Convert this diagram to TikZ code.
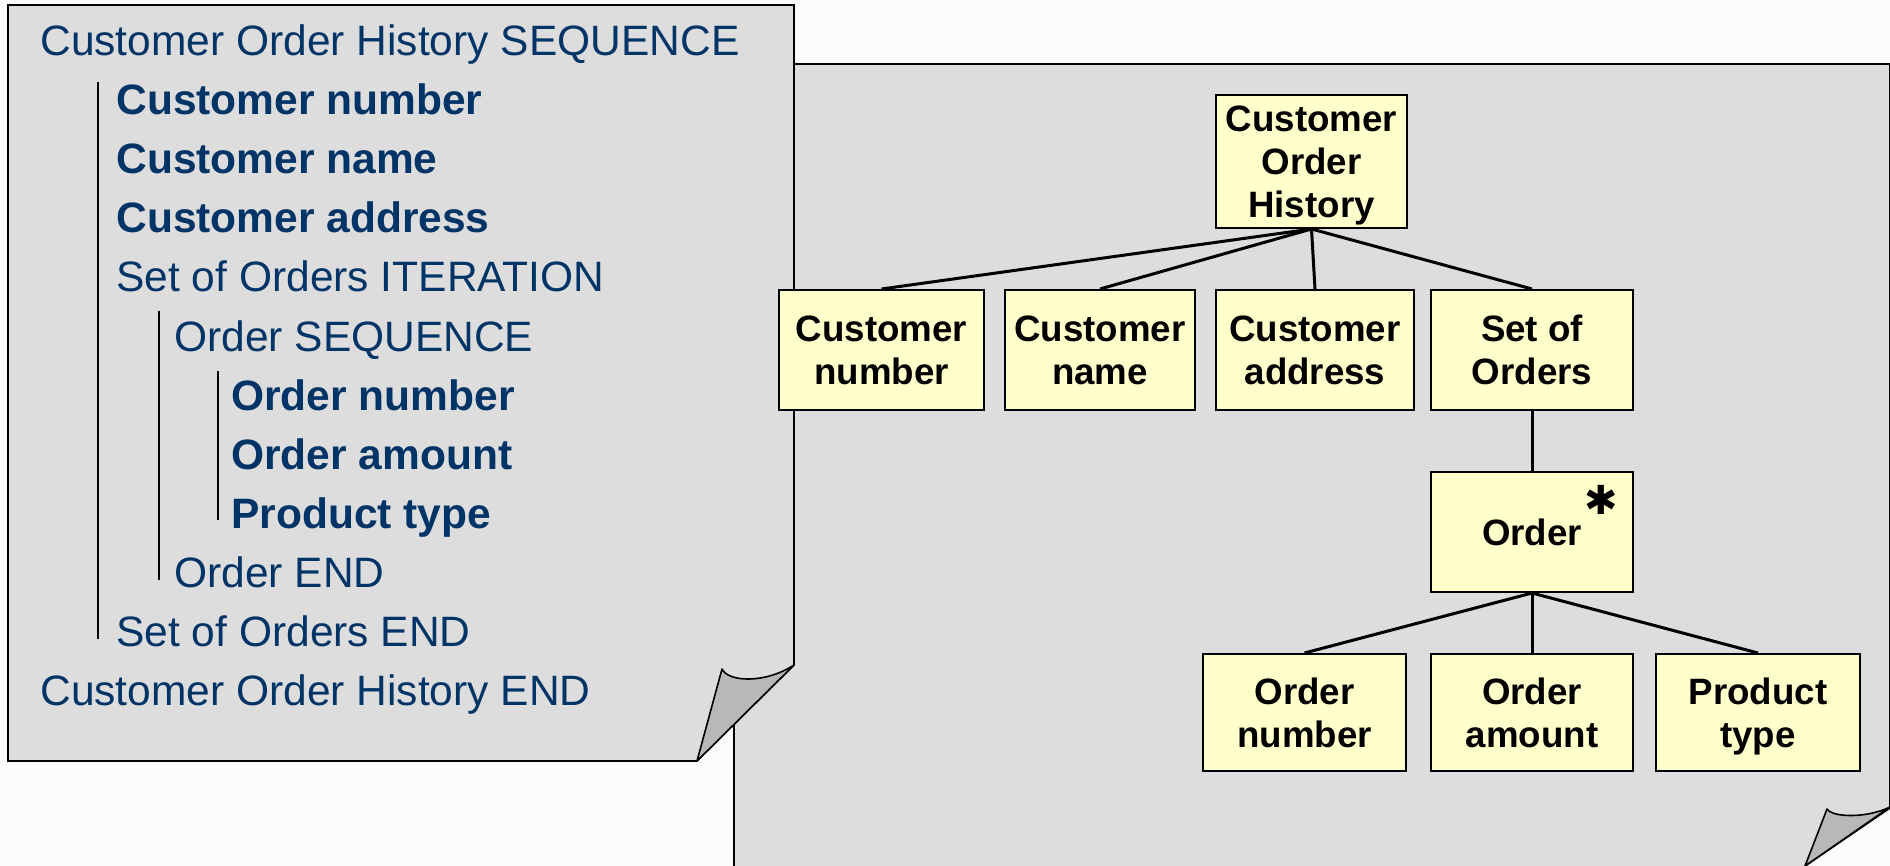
\documentclass[tikz,border=0pt]{standalone}
\usepackage{fontspec}
\setmainfont{Liberation Sans}
\newfontfamily\symfont{DejaVu Sans}
\definecolor{bgc}{HTML}{FAFCFE}
\definecolor{pagec}{HTML}{DDDDDD}
\definecolor{curlc}{HTML}{B8B8B8}
\definecolor{navy}{HTML}{003366}
\definecolor{boxy}{HTML}{FFFFCC}
\tikzset{
  page/.style={fill=pagec},
  pageedge/.style={draw=black, line width=0.8pt, line join=miter},
  curl/.style={fill=curlc, draw=black, line width=0.8pt, line join=round},
  lt/.style={font=\fontsize{21.25}{25}\selectfont, text=navy, inner sep=0pt, anchor=base west},
  ltb/.style={lt, font=\fontsize{21.25}{25}\selectfont\bfseries},
  bar/.style={draw=black, line width=1pt},
  box/.style={draw=black, line width=1pt, fill=boxy, align=center, inner sep=0pt,
    font=\fontsize{18.35}{21.5}\selectfont\bfseries, minimum height=60pt, text depth=0pt},
  edge/.style={draw=black, line width=1.5pt},
}
\begin{document}
\begin{tikzpicture}[x=0.5pt,y=-0.5pt]
\fill[bgc] (0,0) rectangle (1890,866);
\useasboundingbox (0,0) rectangle (1890,866);
% right page
\fill[page] (734,64) -- (1890,64) -- (1890,808) -- (1805,866) -- (734,866) -- cycle;
\draw[pageedge] (734,866) -- (734,64) -- (1890,64) -- (1890,808) -- (1805,866);
\filldraw[curl] (1805,866) -- (1827,809) .. controls (1833,818) and (1868,818) .. (1890,807) -- cycle;
% left page
\filldraw[page, pageedge] (8,5) -- (794,5) -- (794,665) -- (697,761) -- (8,761) -- cycle;
\filldraw[curl] (697,761) -- (722,669) .. controls (728,682) and (765,684) .. (794,665) -- cycle;
% left text
\node[lt]  (l1)  at (40,56)  {Customer Order History SEQUENCE};
\node[ltb] (l2)  at (116,115) {Customer number};
\node[ltb] (l3)  at (116,174) {Customer name};
\node[ltb] (l4)  at (116,233) {Customer address};
\node[lt]  (l5)  at (116,292) {Set of Orders ITERATION};
\node[lt]  (l6)  at (174,351) {Order SEQUENCE};
\node[ltb] (l7)  at (231,410) {Order number};
\node[ltb] (l8)  at (231,469) {Order amount};
\node[ltb] (l9)  at (231,528) {Product type};
\node[lt]  (l10) at (174,587) {Order END};
\node[lt]  (l11) at (116,646) {Set of Orders END};
\node[lt]  (l12) at (40,705)  {Customer Order History END};
\draw[bar] (98,82) -- (98,639);
\draw[bar] (159,311) -- (159,580);
\draw[bar] (218,371) -- (218,520);
% tree
\node[box, minimum width=95.5pt, minimum height=66.5pt] (coh) at (1311.5,161.5) {Customer\\Order\\History};
\node[box, minimum width=102.5pt] (cn)  at (881.5,350) {Customer\\number};
\node[box, minimum width=95pt]    (cna) at (1100,350)  {Customer\\name};
\node[box, minimum width=99pt]    (ca)  at (1315,350)  {Customer\\address};
\node[box, minimum width=101pt]   (so)  at (1532,350)  {Set of\\Orders};
\node[box, minimum width=101pt]   (ord) at (1532,532)  {Order};
\node[box, minimum width=101.5pt, minimum height=58.5pt] (on) at (1304.5,712.5) {Order\\number};
\node[box, minimum width=101pt, minimum height=58.5pt]   (oa) at (1532,712.5)   {Order\\amount};
\node[box, minimum width=102pt, minimum height=58.5pt]   (pt) at (1758,712.5)   {Product\\type};
\node[inner sep=0pt, font=\symfont\fontsize{20}{20}\selectfont] (star) at (1601,500) {✱};
\draw[edge] (coh.south) -- (cn.north);
\draw[edge] (coh.south) -- (cna.north);
\draw[edge] (coh.south) -- (ca.north);
\draw[edge] (coh.south) -- (so.north);
\draw[edge] (so.south) -- (ord.north);
\draw[edge] (ord.south) -- (on.north);
\draw[edge] (ord.south) -- (oa.north);
\draw[edge] (ord.south) -- (pt.north);
\end{tikzpicture}
\end{document}
